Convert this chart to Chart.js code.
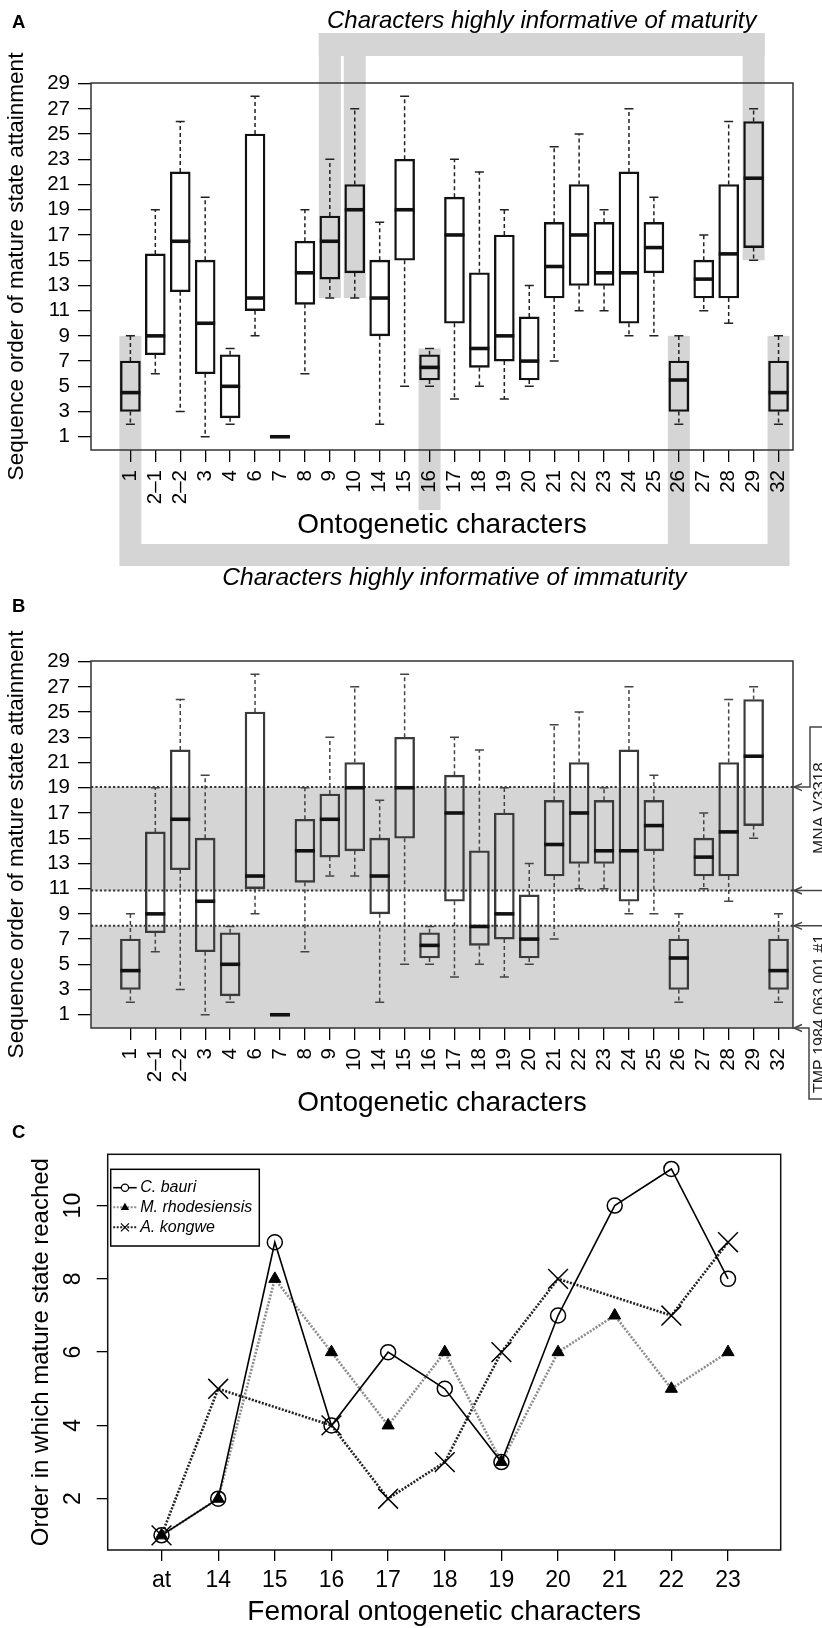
<!DOCTYPE html>
<html>
<head>
<meta charset="utf-8">
<script src="https://cdn.jsdelivr.net/npm/chart.js@4.4.1/dist/chart.umd.min.js"></script>
<style>
  html, body { margin: 0; padding: 0; background: #fff; overflow: hidden; width: 822px; height: 1628px; }
  .wrap { position: absolute; left: 0; width: 822px; }
</style>
</head>
<body>
<div class="wrap" style="top:0px;height:600px"><canvas id="chartA"></canvas></div>
<div class="wrap" style="top:578px;height:600px"><canvas id="chartB"></canvas></div>
<div class="wrap" style="top:1110px;height:530px"><canvas id="chartC"></canvas></div>
<script>
// ---------------- DATA (panels A & B) ----------------
const characters  = ['1','2–1','2–2','3','4','6','7','8','9','10','14','15','16','17','18','19','20','21','22','23','24','25','26','27','28','29','32'];
const whiskerLow  = [2, 6, 3, 1, 2, 9, 1, 6, 12, 12, 2, 5, 5, 4, 5, 4, 5, 7, 11, 11, 9, 9, 2, 11, 10, 15, 2];
const q1          = [3, 7.5, 12.5, 6, 2.5, 11, 1, 11.5, 13.5, 14, 9, 15, 5.5, 10, 6.5, 7, 5.5, 12, 13, 13, 10, 14, 3, 12, 12, 16, 3];
const median      = [4.5, 9, 16.5, 10, 5, 12, 1, 14, 16.5, 19, 12, 19, 6.5, 17, 8, 9, 7, 14.5, 17, 14, 14, 16, 5.5, 13.5, 15.5, 21.5, 4.5];
const q3          = [7, 15.5, 22, 15, 7.5, 25, 1, 16.5, 18.5, 21, 15, 23, 7.5, 20, 14, 17, 10.5, 18, 21, 18, 22, 18, 7, 15, 21, 26, 7];
const whiskerHigh = [9, 19, 26, 20, 8, 28, 1, 19, 23, 27, 18, 28, 8, 23, 22, 19, 13, 24, 25, 19, 27, 20, 9, 17, 26, 27, 9];
const yTicksAB    = [1, 3, 5, 7, 9, 11, 13, 15, 17, 19, 21, 23, 25, 27, 29];

const maturityChars   = ['9', '10', '29'];
const immaturityChars = ['1', '16', '26', '32'];

// specimen ranges (panel B)
const specimenNames = ['MNA V3318', 'TMP 1984.063.001 #1'];
const specimenLow   = [10.85, -0.05];
const specimenHigh  = [19.05, 8.05];

// ---------------- DATA (panel C) ----------------
const femoralChars   = ['at', '14', '15', '16', '17', '18', '19', '20', '21', '22', '23'];
const cBauri         = [1, 2, 9, 4, 6, 5, 3, 7, 10, 11, 8];
const mRhodesiensis  = [1, 2, 8, 6, 4, 6, 3, 6, 7, 5, 6];
const aKongwe        = [1, 5, null, 4, 2, 3, 6, 8, null, 7, 9];
const yTicksC        = [2, 4, 6, 8, 10];

// ---------------- STYLE ----------------
const FONT = "'Liberation Sans', Arial, Helvetica, sans-serif";
Chart.defaults.font.family = FONT;
Chart.defaults.color = '#000';
const BAND = '#d5d5d5';

// ---------------- PLUGINS ----------------
const framePlugin = {
  id: 'frame',
  afterDraw(chart, args, o) {
    const { ctx, chartArea: c } = chart;
    ctx.save();
    ctx.strokeStyle = o.color || '#222';
    ctx.lineWidth = o.width || 1.5;
    ctx.strokeRect(c.left, c.top, c.right - c.left, c.bottom - c.top);
    ctx.restore();
  }
};

const panelLabelPlugin = {
  id: 'panelLabel',
  afterDraw(chart, args, o) {
    const ctx = chart.ctx;
    ctx.save();
    ctx.font = 'bold 18.5px ' + FONT;
    ctx.fillStyle = '#000';
    ctx.textBaseline = 'alphabetic';
    ctx.fillText(o.text, o.x, o.y);
    ctx.restore();
  }
};

const boxplotPlugin = {
  id: 'boxplotExtras',
  afterDatasetsDraw(chart, args, o) {
    const { ctx } = chart;
    const xs = chart.scales.x, ys = chart.scales.y;
    ctx.save();
    characters.forEach((c, i) => {
      const x = xs.getPixelForValue(i);
      const yHi = ys.getPixelForValue(whiskerHigh[i]);
      const yLo = ys.getPixelForValue(whiskerLow[i]);
      const yQ1 = ys.getPixelForValue(q1[i]);
      const yQ3 = ys.getPixelForValue(q3[i]);
      const yMed = ys.getPixelForValue(median[i]);
      ctx.strokeStyle = o.whiskerColor;
      ctx.lineWidth = 1.5;
      ctx.setLineDash([4, 3]);
      ctx.beginPath();
      ctx.moveTo(x, yQ3); ctx.lineTo(x, yHi);
      ctx.moveTo(x, yQ1); ctx.lineTo(x, yLo);
      ctx.stroke();
      ctx.setLineDash([]);
      ctx.beginPath();
      ctx.moveTo(x - 4.5, yHi); ctx.lineTo(x + 4.5, yHi);
      ctx.moveTo(x - 4.5, yLo); ctx.lineTo(x + 4.5, yLo);
      ctx.stroke();
      ctx.strokeStyle = '#111';
      ctx.lineWidth = 3.6;
      ctx.beginPath();
      ctx.moveTo(x - 10, yMed); ctx.lineTo(x + 10, yMed);
      ctx.stroke();
    });
    ctx.restore();
  }
};

// panel A: brackets of highly informative characters
const bracketPlugin = {
  id: 'brackets',
  beforeDraw(chart) {
    const { ctx, chartArea: ca } = chart;
    const xs = chart.scales.x, ys = chart.scales.y;
    const hw = 11;
    ctx.save();
    ctx.fillStyle = BAND;
    // maturity bracket (top)
    const mIdx = maturityChars.map(c => characters.indexOf(c));
    const top1 = ca.top - 50, top2 = ca.top - 27;
    const mL = xs.getPixelForValue(mIdx[0]) - hw;
    const mR = xs.getPixelForValue(mIdx[mIdx.length - 1]) + hw;
    ctx.fillRect(mL, top1, mR - mL, top2 - top1);
    mIdx.forEach(i => {
      const x = xs.getPixelForValue(i);
      ctx.fillRect(x - hw, top1, 2 * hw, ys.getPixelForValue(whiskerLow[i]) - top1);
    });
    // immaturity bracket (bottom)
    const iIdx = immaturityChars.map(c => characters.indexOf(c));
    const bot1 = ca.bottom + 94, bot2 = ca.bottom + 116;
    const iL = xs.getPixelForValue(iIdx[0]) - hw;
    const iR = xs.getPixelForValue(iIdx[iIdx.length - 1]) + hw;
    ctx.fillRect(iL, bot1, iR - iL, bot2 - bot1);
    // x-axis title area stays white
    ctx.font = '28px ' + FONT;
    const tw = ctx.measureText(xs.options.title.text).width;
    const tc = (ca.left + ca.right) / 2;
    iIdx.forEach(i => {
      const x = xs.getPixelForValue(i);
      const yt = ys.getPixelForValue(whiskerHigh[i]);
      const crosses = x + hw > tc - tw / 2 - 4 && x - hw < tc + tw / 2 + 4;
      const yb = crosses ? ca.bottom + 60 : bot1;
      ctx.fillRect(x - hw, yt, 2 * hw, yb - yt);
    });
    // captions
    ctx.fillStyle = '#000';
    ctx.font = 'italic 24px ' + FONT;
    ctx.textAlign = 'center';
    ctx.textBaseline = 'alphabetic';
    ctx.fillText('Characters highly informative of maturity', (mL + mR) / 2, top1 - 5);
    ctx.font = 'italic 24.5px ' + FONT;
    ctx.fillText('Characters highly informative of immaturity', (iL + iR) / 2, bot2 + 19);
    ctx.restore();
  }
};

// panel B: specimen ranges
const specimenBandPlugin = {
  id: 'specimenBands',
  beforeDatasetsDraw(chart) {
    const { ctx, chartArea: ca } = chart;
    const ys = chart.scales.y;
    ctx.save();
    ctx.fillStyle = BAND;
    specimenNames.forEach((n, k) => {
      const yT = ys.getPixelForValue(specimenHigh[k]);
      const yB = Math.min(ys.getPixelForValue(specimenLow[k]), ca.bottom);
      ctx.fillRect(ca.left, yT, ca.right - ca.left, yB - yT);
    });
    ctx.strokeStyle = '#333';
    ctx.lineWidth = 2;
    ctx.setLineDash([2.2, 2.2]);
    const levels = [];
    specimenNames.forEach((n, k) => { levels.push(specimenHigh[k]); if (specimenLow[k] > ys.min) levels.push(specimenLow[k]); });
    levels.forEach(v => {
      const y = ys.getPixelForValue(v);
      ctx.beginPath(); ctx.moveTo(ca.left, y); ctx.lineTo(ca.right, y); ctx.stroke();
    });
    ctx.restore();
  },
  afterDraw(chart) {
    const { ctx, chartArea: ca } = chart;
    const ys = chart.scales.y;
    const W = chart.width;
    const ax = ca.right + 1;
    const bx = ca.right + 17;
    ctx.save();
    ctx.strokeStyle = '#444';
    ctx.fillStyle = '#222';
    ctx.lineWidth = 1.5;
    const arrow = (y) => {
      ctx.beginPath();
      ctx.moveTo(ax + 8, y - 3.5); ctx.lineTo(ax, y); ctx.lineTo(ax + 8, y + 3.5);
      ctx.stroke();
    };
    specimenNames.forEach((name, k) => {
      const yHi = ys.getPixelForValue(specimenHigh[k]);
      const yLo = Math.min(ys.getPixelForValue(specimenLow[k]), ca.bottom);
      arrow(yHi); arrow(yLo);
      ctx.beginPath();
      let textY;
      if (k === 0) {
        ctx.moveTo(ax, yHi); ctx.lineTo(bx, yHi); ctx.lineTo(bx, yHi - 60); ctx.lineTo(W + 2, yHi - 60);
        ctx.moveTo(ax, yLo); ctx.lineTo(W + 2, yLo);
        textY = yHi + 21;
      } else {
        ctx.moveTo(ax, yHi); ctx.lineTo(W + 2, yHi);
        ctx.moveTo(ax, yLo); ctx.lineTo(bx - 1, yLo); ctx.lineTo(bx - 1, yLo + 71); ctx.lineTo(W + 2, yLo + 71);
        textY = yHi + 88;
      }
      ctx.stroke();
      ctx.save();
      ctx.translate(825, textY);
      ctx.rotate(-Math.PI / 2);
      ctx.font = (k === 0 ? '17px ' : '16px ') + FONT;
      ctx.textAlign = 'center';
      ctx.textBaseline = 'alphabetic';
      ctx.fillText(name, 0, 0);
      ctx.restore();
    });
    ctx.restore();
  }
};

// ---------------- BOXPLOT FACTORY ----------------
function boxplotChart(id, cfg) {
  return new Chart(document.getElementById(id), {
    type: 'bar',
    data: {
      datasets: [{
        data: characters.map((c, i) => ({ x: i, y: [q1[i], q3[i]] })),
        backgroundColor: 'rgba(0,0,0,0)',
        borderColor: cfg.boxColor,
        borderWidth: 1.7,
        borderSkipped: false,
        barThickness: 20,
        grouped: false
      }]
    },
    options: {
      responsive: true, maintainAspectRatio: false, animation: false, events: [],
      layout: { padding: { top: 83, right: 29, bottom: 50, left: 0 } },
      plugins: {
        legend: { display: false }, tooltip: { enabled: false },
        frame: { color: '#333', width: 1.5 },
        panelLabel: { text: cfg.label, x: 12, y: cfg.labelY },
        boxplotExtras: { whiskerColor: cfg.whiskerColor }
      },
      scales: {
        x: {
          type: 'linear', min: -1.58, max: 26.58, offset: false,
          afterBuildTicks: s => { s.ticks = characters.map((c, i) => ({ value: i })); },
          afterFit: s => { s.height = 100; },
          ticks: { autoSkip: false, minRotation: 90, maxRotation: 90, padding: 8, color: '#000',
                   font: { size: 20.5 }, callback: v => characters[v] },
          grid: { drawOnChartArea: false, drawTicks: true, tickLength: 12, color: '#000', lineWidth: 1.3, offset: false },
          border: { display: false },
          title: { display: true, text: 'Ontogenetic characters', color: '#000', font: { size: 28 }, padding: { top: 0, bottom: 8.2 } }
        },
        y: {
          type: 'linear', min: -0.05, max: 29.05,
          afterBuildTicks: s => { s.ticks = yTicksAB.map(v => ({ value: v })); },
          afterFit: s => { s.width = 91; },
          ticks: { autoSkip: false, padding: 8, color: '#000', font: { size: 20.5 } },
          grid: { drawOnChartArea: false, drawTicks: true, tickLength: 13, color: '#000', lineWidth: 1.3 },
          border: { display: false },
          title: { display: true, text: 'Sequence order of mature state attainment', color: '#000',
                   font: { size: 22.5 }, padding: { top: 3.5, bottom: 0 } }
        }
      }
    },
    plugins: cfg.plugins.concat([boxplotPlugin, framePlugin, panelLabelPlugin])
  });
}

boxplotChart('chartA', { label: 'A', labelY: 28, boxColor: '#111', whiskerColor: '#222', plugins: [bracketPlugin] });
boxplotChart('chartB', { label: 'B', labelY: 34, boxColor: '#3a3a3a', whiskerColor: '#444', plugins: [specimenBandPlugin] });

// ---------------- PANEL C ----------------
const legendCPlugin = {
  id: 'legendC',
  afterDraw(chart) {
    const { ctx, chartArea: ca } = chart;
    const x0 = ca.left + 3, y0 = ca.top + 15, w = 148.6, h = 76.7;
    ctx.save();
    ctx.fillStyle = '#fff';
    ctx.fillRect(x0, y0, w, h);
    ctx.strokeStyle = '#000';
    ctx.lineWidth = 1.5;
    ctx.strokeRect(x0, y0, w, h);
    const rows = [18.4, 38, 58];
    chart.data.datasets.forEach((ds, k) => {
      const y = y0 + rows[k];
      const lx1 = x0 + 2.5, lx2 = x0 + 26, mx = (lx1 + lx2) / 2;
      ctx.strokeStyle = ds.borderColor;
      ctx.lineWidth = Math.min(ds.borderWidth, 2);
      ctx.setLineDash(ds.borderDash || []);
      ctx.beginPath(); ctx.moveTo(lx1, y); ctx.lineTo(lx2, y); ctx.stroke();
      ctx.setLineDash([]);
      ctx.strokeStyle = '#000';
      ctx.fillStyle = '#000';
      ctx.lineWidth = 1.2;
      if (ds.pointStyle === 'circle') {
        ctx.fillStyle = '#fff';
        ctx.beginPath(); ctx.arc(mx, y, 3.6, 0, Math.PI * 2); ctx.fill(); ctx.stroke();
      } else if (ds.pointStyle === 'triangle') {
        ctx.beginPath(); ctx.moveTo(mx, y - 4.5); ctx.lineTo(mx + 4.2, y + 2.8); ctx.lineTo(mx - 4.2, y + 2.8); ctx.closePath(); ctx.fill();
      } else {
        ctx.beginPath(); ctx.moveTo(mx - 4, y - 4); ctx.lineTo(mx + 4, y + 4); ctx.moveTo(mx - 4, y + 4); ctx.lineTo(mx + 4, y - 4); ctx.stroke();
      }
      ctx.fillStyle = '#000';
      ctx.font = 'italic 16px ' + FONT;
      ctx.textBaseline = 'middle';
      ctx.textAlign = 'left';
      ctx.fillText(ds.label, x0 + 29.5, y);
    });
    ctx.restore();
  }
};

new Chart(document.getElementById('chartC'), {
  type: 'line',
  data: {
    datasets: [
      {
        label: 'C. bauri',
        data: femoralChars.map((c, i) => ({ x: i, y: cBauri[i] })),
        borderColor: '#000', borderWidth: 1.6, tension: 0, fill: false,
        pointStyle: 'circle', pointRadius: 7.5, pointBorderWidth: 1.5,
        pointBorderColor: '#000', pointBackgroundColor: 'rgba(0,0,0,0)'
      },
      {
        label: 'M. rhodesiensis',
        data: femoralChars.map((c, i) => ({ x: i, y: mRhodesiensis[i] })),
        borderColor: '#8c8c8c', borderWidth: 2.6, borderDash: [2, 1.5], tension: 0, fill: false,
        pointStyle: 'triangle', pointRadius: 7, pointBorderWidth: 1,
        pointBorderColor: '#000', pointBackgroundColor: '#000'
      },
      {
        label: 'A. kongwe',
        data: femoralChars.map((c, i) => ({ x: i, y: aKongwe[i] })),
        borderColor: '#222', borderWidth: 2.6, borderDash: [2, 1.5], tension: 0, fill: false, spanGaps: true,
        pointStyle: 'crossRot', pointRadius: 14, pointBorderWidth: 1.5,
        pointBorderColor: '#000', pointBackgroundColor: '#000'
      }
    ]
  },
  options: {
    responsive: true, maintainAspectRatio: false, animation: false, events: [],
    layout: { padding: { top: 44.3, right: 41.3, bottom: 10, left: 0 } },
    plugins: {
      legend: { display: false }, tooltip: { enabled: false },
      frame: { color: '#111', width: 1.5 },
      panelLabel: { text: 'C', x: 12, y: 28 }
    },
    scales: {
      x: {
        type: 'linear', min: -0.95, max: 10.93, offset: false,
        afterBuildTicks: s => { s.ticks = femoralChars.map((c, i) => ({ value: i })); },
        afterFit: s => { s.height = 80; },
        ticks: { autoSkip: false, maxRotation: 0, minRotation: 0, padding: 5.6, color: '#000',
                 font: { size: 23 }, callback: v => femoralChars[v] },
        grid: { drawOnChartArea: false, drawTicks: true, tickLength: 11, color: '#000', lineWidth: 1.3 },
        border: { display: false },
        title: { display: true, text: 'Femoral ontogenetic characters', color: '#000', font: { size: 28 }, padding: { top: 0, bottom: 1.2 } }
      },
      y: {
        type: 'linear', min: 0.6, max: 11.4,
        afterBuildTicks: s => { s.ticks = yTicksC.map(v => ({ value: v })); },
        afterFit: s => { s.width = 107.7; },
        ticks: { autoSkip: false, minRotation: 90, maxRotation: 90, crossAlign: 'center', padding: 10, color: '#000', font: { size: 23 } },
        grid: { drawOnChartArea: false, drawTicks: true, tickLength: 11, color: '#000', lineWidth: 1.3 },
        border: { display: false },
        title: { display: true, text: 'Order in which mature state reached', color: '#000',
                 font: { size: 24 }, padding: { top: 26.6, bottom: 0 } }
      }
    }
  },
  plugins: [framePlugin, legendCPlugin, panelLabelPlugin]
});
</script>
</body>
</html>
